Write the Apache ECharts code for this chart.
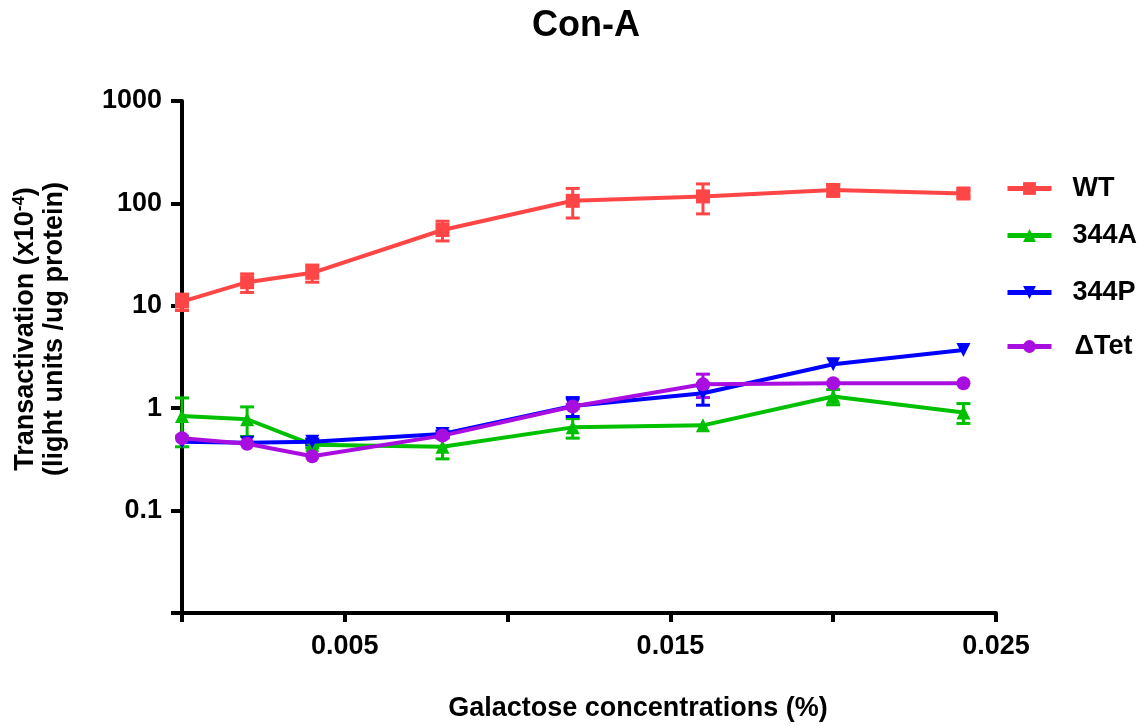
<!DOCTYPE html>
<html>
<head>
<meta charset="utf-8">
<script src="https://cdn.jsdelivr.net/npm/echarts@6/dist/echarts.min.js"></script>
<style>
  html, body { margin: 0; padding: 0; background: #fff; }
  #chart { width: 1141px; height: 726px; }
</style>
</head>
<body>
<div id="chart"></div>
<script>
// Galactose concentration (%)
const concentrations = [0, 0.002, 0.004, 0.008, 0.012, 0.016, 0.02, 0.024];

// Transactivation means and SEM for each construct
const wtMean  = [11, 17, 21, 55, 106, 117, 135, 125];
const wtErr   = [2, 3.5, 4, 12, 34, 38, 18, 10];
const aMean   = [0.84, 0.78, 0.44, 0.42, 0.65, 0.68, 1.30, 0.91];
const aErr    = [0.42, 0.25, 0.03, 0.10, 0.14, 0, 0.22, 0.20];
const pMean   = [0.47, 0.46, 0.47, 0.56, 1.05, 1.40, 2.69, 3.71];
const pErr    = [0, 0, 0.03, 0.04, 0.22, 0.33, 0, 0];
const tetMean = [0.51, 0.45, 0.34, 0.54, 1.04, 1.71, 1.75, 1.75];
const tetErr  = [0, 0, 0, 0.03, 0.05, 0.44, 0, 0];

const seriesNames = ['WT', '344A', '344P', '\u0394Tet'];
const xTickLabels = ['0.005', '0.015', '0.025'];
const yTickLabels = ['0.1', '1', '10', '100', '1000'];

const colors = ['#FF4646', '#00C000', '#0000FF', '#A90EE0'];
const FONT = 'Liberation Sans, Arial, sans-serif';
const LABEL_SIZE = 27;

function pairs(ys) {
  return concentrations.map((x, i) => [x, ys[i]]);
}
function errRows(ys, es) {
  return concentrations.map((x, i) => [x, ys[i] - es[i], ys[i] + es[i]]).filter((r, i) => es[i] > 0);
}

// vertical whisker with caps, drawn through the axis scales
function errorBar(color) {
  return function (params, api) {
    const x = api.value(0);
    const lo = api.coord([x, api.value(1)]);
    const hi = api.coord([x, api.value(2)]);
    const half = 7;
    const style = { stroke: color, lineWidth: 3 };
    return {
      type: 'group',
      children: [
        { type: 'line', shape: { x1: lo[0], y1: lo[1], x2: hi[0], y2: hi[1] }, style },
        { type: 'line', shape: { x1: lo[0] - half, y1: lo[1], x2: lo[0] + half, y2: lo[1] }, style },
        { type: 'line', shape: { x1: hi[0] - half, y1: hi[1], x2: hi[0] + half, y2: hi[1] }, style }
      ]
    };
  };
}

const means = [wtMean, aMean, pMean, tetMean];
const errs = [wtErr, aErr, pErr, tetErr];
const symbols = ['rect', 'triangle', 'triangle', 'circle'];
const symbolSizes = [14, 14, 14, 14];
const symbolRotates = [0, 0, 180, 0];

const series = [];
seriesNames.forEach((name, k) => {
  series.push({
    name: name + '_err',
    type: 'custom',
    renderItem: errorBar(colors[k]),
    data: errRows(means[k], errs[k]),
    encode: { x: 0, y: [1, 2] },
    clip: false,
    silent: true,
    z: 2
  });
});
seriesNames.forEach((name, k) => {
  series.push({
    name: name,
    type: 'line',
    data: pairs(means[k]),
    symbol: symbols[k],
    symbolSize: symbolSizes[k],
    symbolRotate: symbolRotates[k],
    showAllSymbol: true,
    clip: false,
    lineStyle: { color: colors[k], width: 4 },
    itemStyle: { color: colors[k] },
    z: 3
  });
});

const legendTops = [170, 217, 274, 328];
const legends = seriesNames.map((name, k) => ({
  data: [name],
  left: 1000,
  top: legendTops[k],
  itemWidth: 44,
  itemHeight: 16,
  itemGap: 0,
  lineStyle: { width: 5 },
  textStyle: {
    fontFamily: FONT,
    fontWeight: 'bold',
    fontSize: LABEL_SIZE,
    color: '#000',
    padding: [0, 0, 0, k === 3 ? 18 : 16]
  },
  selectedMode: false
}));

const chart = echarts.init(document.getElementById('chart'), null, { renderer: 'canvas' });
chart.setOption({
  backgroundColor: '#fff',
  animation: false,
  title: {
    text: 'Con-A',
    left: 581,
    textAlign: 'center',
    top: 3,
    textStyle: { fontFamily: FONT, fontWeight: 'bold', fontSize: 36, color: '#000' }
  },
  legend: legends,
  grid: { left: 182, right: 145, top: 101, bottom: 113, containLabel: false },
  xAxis: {
    type: 'value',
    min: 0,
    max: 0.025,
    interval: 0.005,
    axisLine: { lineStyle: { color: '#000', width: 4 } },
    axisTick: { length: 9, lineStyle: { color: '#000', width: 4 } },
    splitLine: { show: false },
    axisLabel: {
      margin: 20,
      fontFamily: FONT,
      fontWeight: 'bold',
      fontSize: LABEL_SIZE,
      color: '#000',
      formatter: function (v) {
        const s = (Math.round(v * 1000) / 1000).toString();
        return xTickLabels.indexOf(s) >= 0 ? s : '';
      }
    }
  },
  yAxis: {
    type: 'log',
    logBase: 10,
    min: 0.01,
    max: 1000,
    axisLine: { onZero: false, lineStyle: { color: '#000', width: 4 } },
    axisTick: { length: 11, lineStyle: { color: '#000', width: 4 } },
    splitLine: { show: false },
    axisLabel: {
      margin: 20,
      fontFamily: FONT,
      fontWeight: 'bold',
      fontSize: LABEL_SIZE,
      color: '#000',
      formatter: function (v) {
        const s = (Math.round(v * 100) / 100).toString();
        return yTickLabels.indexOf(s) >= 0 ? s : '';
      }
    }
  },
  graphic: [{
    type: 'text',
    x: 40,
    y: 329,
    rotation: Math.PI / 2,
    style: {
      text: 'Transactivation (x10{sup|-4})\n(light units /ug protein)',
      fontFamily: FONT,
      fontWeight: 'bold',
      fontSize: LABEL_SIZE,
      lineHeight: 29,
      fill: '#000',
      align: 'center',
      verticalAlign: 'middle',
      rich: {
        sup: {
          fontFamily: FONT,
          fontWeight: 'bold',
          fontSize: 17,
          lineHeight: 29,
          fill: '#000',
          padding: [0, 0, 12, 0]
        }
      }
    }
  }, {
    type: 'text',
    x: 638,
    y: 709,
    style: {
      text: 'Galactose concentrations (%)',
      fontFamily: FONT,
      fontWeight: 'bold',
      fontSize: LABEL_SIZE,
      fill: '#000',
      align: 'center',
      verticalAlign: 'middle'
    }
  }],
  series: series
});
</script>
</body>
</html>
